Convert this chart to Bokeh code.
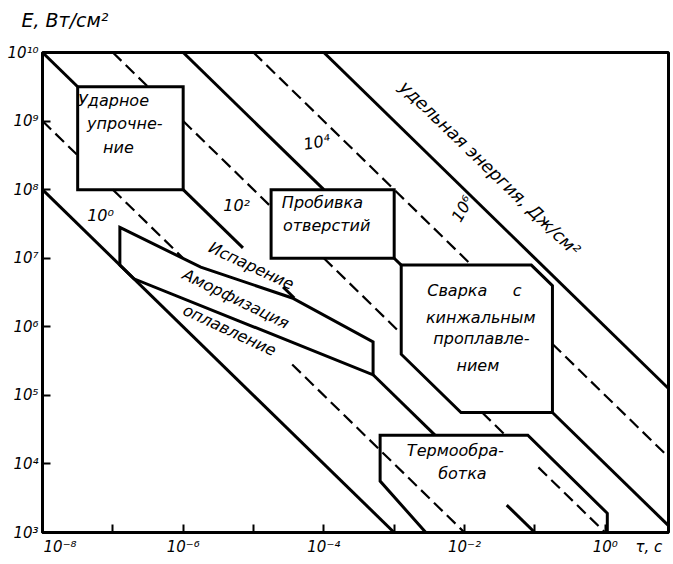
from bokeh.plotting import figure
from bokeh.models import Label, FixedTicker, Range1d, CustomJSTickFormatter
from bokeh.embed import file_html
from bokeh.resources import INLINE

# ---------------- data (log10 values) ----------------
E_TICK_EXP = [3, 4, 5, 6, 7, 8, 9, 10]
E_TICK_LABELS = ["10³", "10⁴", "10⁵", "10⁶", "10⁷", "10⁸", "10⁹", "10¹⁰"]
TAU_TICK_EXP = [-8, -7, -6, -5, -4, -3, -2, -1, 0]
TAU_LABEL_EXP = [-7.75, -6, -4, -2, 0, 0.62]
TAU_TICK_LABELS = ["10⁻⁸", "10⁻⁶", "10⁻⁴", "10⁻²", "10⁰", "τ, c"]
TAU_MIN_EXP, TAU_MAX_EXP = -8, 0.9
E_MIN_EXP, E_MAX_EXP = 3, 10

# iso-energy lines W = E*tau (J/cm^2): exponent, style, visible log10(tau) pieces
ENERGY_EXP = [0, 1, 2, 3, 4, 5, 6]
ENERGY_SOLID = [True, False, True, False, True, False, True]
ENERGY_SEGMENTS = [
    [(-8, -3)],
    [(-8, -7.5), (-7, -6.0), (-4.45, -2)],
    [(-8, -7.5), (-6, -5.15), (-4.58, -4.42), (-3.3, -2.42), (-1.4, -1)],
    [(-7, -6.5), (-6, -4.75), (-4, -2.9), (-1.75, -1.42), (-0.95, 0)],
    [(-6, -4), (-3, -2.9), (-0.75, 0.9)],
    [(-5, -1.9), (-0.75, 0.9)],
    [(-4, 0.9)],
]
ENERGY_LABELS = ["10⁰", "10²", "10⁴", "10⁶"]

# process regions, vertices as (log10 tau, log10 E)
REGION_NAMES = ["Ударное упрочнение", "Пробивка отверстий", "Сварка с кинжальным проплавлением",
                "Термообработка", "Аморфизация"]
REGION_TAU = [
    [-7.5, -6, -6, -7.5],
    [-4.75, -3, -3, -4.75],
    [-2.9, -1.05, -0.75, -0.75, -2.05, -2.9],
    [-3.2, -1.1, 0.03, 0.03, -2.55, -3.2],
    [-6.9, -5.75, -4.45, -3.3, -3.3, -6.7, -6.9],
]
REGION_E = [
    [9.5, 9.5, 8, 8],
    [8, 8, 7, 7],
    [6.9, 6.9, 6.6, 4.75, 4.75, 5.6],
    [4.42, 4.42, 3.28, 3.0, 3.0, 3.75],
    [7.45, 6.87, 6.42, 5.78, 5.3, 6.7, 6.9],
]

FONT = "DejaVu Sans"
NBSP = "\u00a0"

p = figure(width=672, height=562, x_axis_type="log", y_axis_type="log",
           x_range=Range1d(10 ** TAU_MIN_EXP, 10 ** TAU_MAX_EXP),
           y_range=Range1d(10 ** E_MIN_EXP, 10 ** E_MAX_EXP),
           output_backend="svg", toolbar_location=None,
           min_border_left=42, min_border_right=4, min_border_top=52, min_border_bottom=30)
p.grid.visible = False
p.outline_line_color = "black"
p.outline_line_width = 3
p.outline_line_alpha = 1.0
p.background_fill_color = "white"
p.border_fill_color = "white"

# axis title for E placed as plot title (top-left); second blank line lifts it up
p.title.text = "E, Вт/см²\n" + NBSP
p.title.align = "left"
p.title.offset = -21
p.title.standoff = 0
p.title.text_font = FONT
p.title.text_font_style = "italic"
p.title.text_font_size = "19px"
p.title.text_color = "black"

JS = """
const e = Math.log10(tick);
for (let i = 0; i < exps.length; i++) {
  if (Math.abs(e - exps[i]) < 1e-6) { return labs[i]; }
}
return ' ';
"""

axes = ((p.xaxis[0], TAU_TICK_EXP, TAU_LABEL_EXP, TAU_TICK_LABELS),
        (p.yaxis[0], E_TICK_EXP, E_TICK_EXP, E_TICK_LABELS))
for ax, mark_exp, lab_exp, labs in axes:
    ax.ticker = FixedTicker(ticks=[10.0 ** t for t in lab_exp],
                            minor_ticks=[10.0 ** t for t in mark_exp])
    ax.formatter = CustomJSTickFormatter(args=dict(exps=lab_exp, labs=labs), code=JS)
    ax.major_tick_in = 0
    ax.major_tick_out = 0
    ax.minor_tick_in = 8
    ax.minor_tick_out = 0
    ax.minor_tick_line_width = 2
    ax.minor_tick_line_color = "black"
    ax.axis_line_width = 3
    ax.axis_line_color = "black"
    ax.major_label_text_font = FONT
    ax.major_label_text_font_style = "italic"
    ax.major_label_text_font_size = "15px"
    ax.major_label_text_color = "black"
p.xaxis[0].major_label_standoff = 5
p.yaxis[0].major_label_standoff = 4

# iso-energy lines
for w, solid, segs in zip(ENERGY_EXP, ENERGY_SOLID, ENERGY_SEGMENTS):
    xs = [[10.0 ** a, 10.0 ** b] for a, b in segs]
    ys = [[10.0 ** (w - a), 10.0 ** (w - b)] for a, b in segs]
    if solid:
        p.multi_line(xs, ys, line_color="black", line_width=3)
    else:
        p.multi_line(xs, ys, line_color="black", line_width=2.2, line_dash="12 6")

# regions
p.patches([[10.0 ** t for t in r] for r in REGION_TAU],
          [[10.0 ** e for e in r] for r in REGION_E],
          fill_color=None, line_color="black", line_width=3, line_join="miter")


def lab(x, y, text, size="16px", angle=0, align="center", baseline="middle"):
    p.add_layout(Label(x=10.0 ** x, y=10.0 ** y, text=text,
                       angle=angle, angle_units="deg", text_align=align,
                       text_baseline=baseline, text_font=FONT, text_font_style="italic",
                       text_font_size=size, text_color="black"))


# energy values along lines
lab(-7.175, 7.62, ENERGY_LABELS[0])
lab(-5.24, 7.77, ENERGY_LABELS[1])
lab(-4.10, 8.69, ENERGY_LABELS[2], angle=10)
lab(-2.03, 7.72, ENERGY_LABELS[3], angle=60)
lab(-1.64, 8.31, "удельная энергия, Дж/см²", size="17.5px", angle=-44)

# process names along the boundaries
lab(-5.03, 6.89, "Испарение", angle=-25)
lab(-5.25, 6.41, "Аморфизация", angle=-26)
lab(-5.34, 5.95, "оплавление", angle=-25)

# text in boxes
lab(-6.99, 9.30, "Ударное")
lab(-6.83, 8.96, "упрочне-")
lab(-6.92, 8.61, "ние")
lab(-4.02, 7.81, "Пробивка")
lab(-3.96, 7.48, "отверстий")
lab(-1.86, 6.53, "Сварка" + NBSP * 5 + "с")
lab(-1.77, 6.14, "кинжальным")
lab(-1.76, 5.83, "проплавле-")
lab(-1.81, 5.44, "нием")
lab(-2.13, 4.20, "Термообра-")
lab(-2.03, 3.86, "ботка")

open("out.html", "w").write(file_html(p, INLINE))
